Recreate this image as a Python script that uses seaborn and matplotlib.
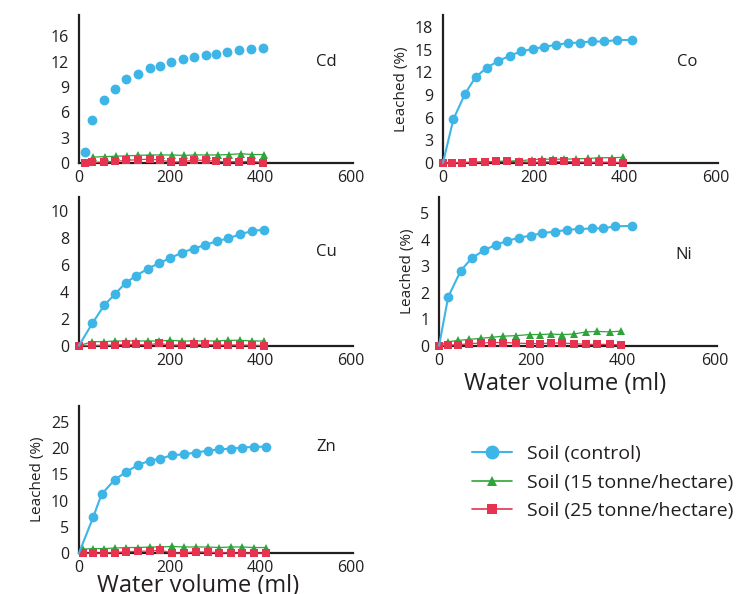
import matplotlib
matplotlib.use("Agg")
import matplotlib.pyplot as plt
from matplotlib.lines import Line2D
import seaborn as sns
import pandas as pd

sns.set_theme(style="white")
plt.rcParams['font.family'] = ['Open Sans', 'DejaVu Sans']

BLUE = "#3DB5E6"
GREEN = "#2EA43A"
RED = "#E6334F"

series_names = ["Soil (control)", "Soil (15 tonne/hectare)", "Soil (25 tonne/hectare)"]

# ---- Cd ----
cd_x_ctrl = [13, 30, 55, 79, 105, 130, 156, 180, 204, 229, 255, 281, 303, 327, 354, 379, 406]
cd_ctrl = [1.35, 5.1, 7.5, 8.7, 9.9, 10.5, 11.2, 11.5, 11.9, 12.3, 12.5, 12.8, 12.95, 13.1, 13.4, 13.5, 13.6]
cd_x_15 = [31, 57, 81, 107, 130, 156, 182, 206, 231, 257, 282, 308, 332, 358, 383, 409]
cd_15 = [0.7, 0.75, 0.8, 0.85, 0.9, 0.95, 0.95, 0.95, 0.9, 0.95, 0.95, 0.95, 1.0, 1.1, 1.0, 1.0]
cd_x_25 = [13, 30, 55, 79, 105, 130, 156, 180, 204, 229, 255, 281, 303, 327, 354, 379, 406]
cd_25 = [0.05, 0.08, 0.1, 0.2, 0.3, 0.4, 0.45, 0.35, 0.1, 0.15, 0.35, 0.3, 0.2, 0.15, 0.15, 0.2, 0.05]

# ---- Co ----
co_x_ctrl = [0, 23, 48, 72, 96, 121, 147, 172, 198, 223, 249, 276, 301, 327, 355, 384, 417]
co_ctrl = [0, 5.8, 9.1, 11.4, 12.6, 13.5, 14.2, 14.8, 15.1, 15.4, 15.65, 15.9, 15.95, 16.1, 16.1, 16.3, 16.3]
co_x_tr = [0, 20, 42, 66, 92, 116, 140, 168, 197, 219, 243, 267, 293, 320, 344, 372, 396]
co_15 = [0, 0.05, 0.05, 0.1, 0.15, 0.2, 0.25, 0.3, 0.45, 0.5, 0.5, 0.5, 0.55, 0.6, 0.7, 0.7, 0.75]
co_25 = [0, 0.05, 0.05, 0.1, 0.15, 0.2, 0.2, 0.15, 0.1, 0.1, 0.2, 0.2, 0.15, 0.1, 0.1, 0.1, 0.05]

# ---- Cu ----
cu_x = [0, 30, 56, 79, 103, 127, 152, 176, 202, 228, 253, 279, 304, 330, 355, 383, 409]
cu_ctrl = [0, 1.67, 3.0, 3.8, 4.65, 5.2, 5.7, 6.1, 6.5, 6.9, 7.2, 7.45, 7.75, 7.95, 8.25, 8.5, 8.6]
cu_15 = [0, 0.3, 0.3, 0.35, 0.35, 0.35, 0.35, 0.35, 0.4, 0.35, 0.35, 0.35, 0.35, 0.4, 0.4, 0.35, 0.35]
cu_25 = [0, 0.02, 0.02, 0.05, 0.1, 0.1, 0.05, 0.18, 0.05, 0.05, 0.1, 0.1, 0.05, 0.05, 0.05, 0.03, 0]

# ---- Ni ----
ni_x_ctrl = [0, 20, 47, 71, 98, 123, 148, 175, 200, 225, 253, 278, 304, 332, 357, 384, 420]
ni_ctrl = [0, 1.84, 2.82, 3.3, 3.6, 3.8, 3.95, 4.08, 4.15, 4.25, 4.3, 4.37, 4.4, 4.42, 4.43, 4.5, 4.52]
ni_x_tr = [0, 20, 42, 66, 92, 116, 140, 168, 197, 219, 243, 267, 293, 320, 344, 372, 396]
ni_15 = [0, 0.15, 0.2, 0.24, 0.28, 0.32, 0.36, 0.38, 0.42, 0.42, 0.44, 0.42, 0.44, 0.52, 0.54, 0.52, 0.55]
ni_25 = [0, 0.03, 0.03, 0.08, 0.1, 0.12, 0.12, 0.1, 0.08, 0.08, 0.1, 0.1, 0.08, 0.05, 0.05, 0.05, 0.03]

# ---- Zn ----
zn_x_ctrl = [0, 32, 50, 79, 105, 130, 156, 180, 206, 231, 258, 284, 310, 335, 361, 387, 412]
zn_ctrl = [0, 6.95, 11.2, 14.0, 15.5, 16.75, 17.6, 18.0, 18.65, 18.8, 19.15, 19.5, 19.75, 19.9, 20.1, 20.25, 20.25]
zn_x_tr = [10, 32, 55, 79, 105, 130, 156, 180, 206, 231, 258, 284, 310, 335, 361, 387, 412]
zn_15 = [0.8, 0.9, 0.9, 1.0, 1.1, 1.1, 1.2, 1.2, 1.3, 1.2, 1.2, 1.2, 1.1, 1.2, 1.2, 1.1, 1.1]
zn_25 = [0, 0.05, 0.05, 0.15, 0.3, 0.4, 0.4, 0.6, 0.05, 0.05, 0.3, 0.2, 0.15, 0.05, 0.05, 0.05, 0.05]

x_ticks = [0, 200, 400, 600]

fig = plt.figure(figsize=(7.37, 5.94), dpi=100)
fig.patch.set_facecolor("white")

TXT = "#231f20"

panels = [
    ("Cd", [0.107, 0.7256, 0.372, 0.249], (cd_x_ctrl, cd_ctrl, False), (cd_x_15, cd_15), (cd_x_25, cd_25),
     [0, 3, 6, 9, 12, 15], ["0", "3", "6", "9", "12", "16"], 17.5, ["0", "200", "400", "600"], False, None, (0.865, 0.68)),
    ("Co", [0.601, 0.7256, 0.373, 0.249], (co_x_ctrl, co_ctrl, True), (co_x_tr, co_15), (co_x_tr, co_25),
     [0, 3, 6, 9, 12, 15, 18], None, 19.6, ["0", "200", "400", "600"], True, None, (0.85, 0.68)),
    ("Cu", [0.107, 0.418, 0.372, 0.250], (cu_x, cu_ctrl, True), (cu_x, cu_15), (cu_x, cu_25),
     [0, 2, 4, 6, 8, 10], None, 11.0, ["", "200", "400", "600"], False, None, (0.865, 0.63)),
    ("Ni", [0.5957, 0.418, 0.377, 0.250], (ni_x_ctrl, ni_ctrl, True), (ni_x_tr, ni_15), (ni_x_tr, ni_25),
     [0, 1, 2, 3, 4, 5], None, 5.6, ["0", "200", "400", "600"], True, (0.453, -0.175), (0.85, 0.61)),
    ("Zn", [0.107, 0.0685, 0.372, 0.248], (zn_x_ctrl, zn_ctrl, True), (zn_x_tr, zn_15), (zn_x_tr, zn_25),
     [0, 5, 10, 15, 20, 25], None, 28.0, ["0", "200", "400", "600"], True, (0.434, -0.14), (0.865, 0.72)),
]

for (name, rect, blue, green, red, yt, ytl, ytop, xtl, ylab, xlab, lpos) in panels:
    ax = fig.add_axes(rect)
    bx, by, bline = blue
    gx, gy = green
    rx, ry = red
    sns.lineplot(x=gx, y=gy, ax=ax, color=GREEN, lw=0.9, marker="^", markersize=6,
                 markeredgewidth=0, sort=False, clip_on=False, zorder=3)
    sns.lineplot(x=rx, y=ry, ax=ax, color=RED, lw=0.9, marker="s", markersize=5.5,
                 markeredgewidth=0, sort=False, clip_on=False, zorder=4)
    if bline:
        sns.lineplot(x=bx, y=by, ax=ax, color=BLUE, lw=1.5, marker="o", markersize=7,
                     markeredgewidth=0, sort=False, clip_on=False, zorder=5,
                     markevery=list(range(1, len(bx))))
    else:
        sns.scatterplot(x=bx, y=by, ax=ax, color=BLUE, s=50, linewidth=0,
                        clip_on=False, zorder=5)
    ax.set_xlim(0, 605)
    ax.set_ylim(0, ytop)
    ax.set_xticks(x_ticks)
    ax.set_xticklabels(xtl)
    ax.set_yticks(yt)
    if ytl is not None:
        ax.set_yticklabels(ytl)
    ax.tick_params(axis="both", length=0, labelsize=11.5, colors=TXT)
    ax.tick_params(axis="y", pad=7)
    ax.tick_params(axis="x", pad=5)
    sns.despine(ax=ax)
    for s in ["left", "bottom"]:
        ax.spines[s].set_color(TXT)
        ax.spines[s].set_linewidth(1.6)
    ax.set_facecolor("white")
    ax.set_ylabel("Leached (%)" if ylab else "", fontsize=11, color=TXT)
    if xlab is not None:
        ax.set_xlabel("Water volume (ml)", fontsize=17, color=TXT, labelpad=0)
        ax.xaxis.set_label_coords(xlab[0], xlab[1])
    else:
        ax.set_xlabel("")
    ax.text(lpos[0], lpos[1], name, transform=ax.transAxes, fontsize=12, color=TXT,
            ha="left", va="center")

handles = [
    Line2D([], [], color=BLUE, lw=1.5, marker="o", markersize=10, markeredgewidth=0),
    Line2D([], [], color=GREEN, lw=1.2, marker="^", markersize=7, markeredgewidth=0),
    Line2D([], [], color=RED, lw=1.2, marker="s", markersize=7, markeredgewidth=0),
]
fig.legend(handles, series_names, loc="upper left", bbox_to_anchor=(0.6405, 0.251),
           frameon=False, fontsize=14, handlelength=2.05, handletextpad=0.8,
           labelspacing=0.55, borderpad=0, borderaxespad=0, labelcolor=TXT)

fig.savefig("out.png", dpi=100, facecolor="white")
